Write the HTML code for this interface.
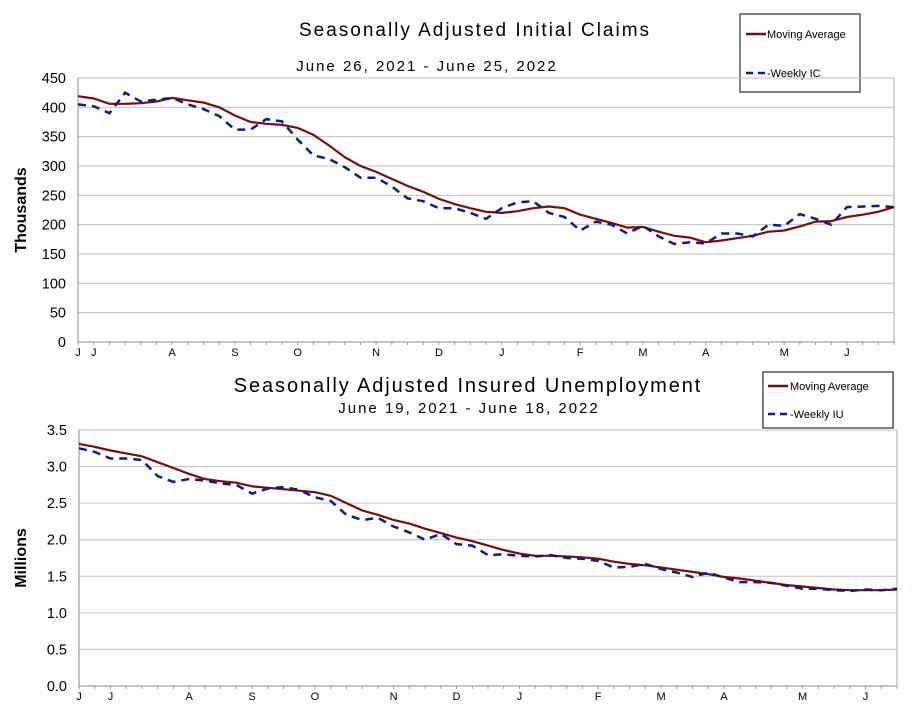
<!DOCTYPE html>
<html><head><meta charset="utf-8"><style>
body{margin:0;background:#fff;}
svg text{font-family:"Liberation Sans",Arial,sans-serif;fill:#000;}
</style></head><body>
<svg id="svg" width="923" height="710" xmlns="http://www.w3.org/2000/svg">
<text x="475" y="36" font-size="19" letter-spacing="2" text-anchor="middle">Seasonally Adjusted  Initial  Claims</text>
<text x="427" y="71" font-size="15" letter-spacing="2" text-anchor="middle">June 26, 2021 - June 25, 2022</text>
<text transform="translate(26,210) rotate(-90)" font-size="16" font-weight="bold" text-anchor="middle">Thousands</text>
<g>
<rect x="740" y="14" width="120" height="78" fill="#fff" stroke="#000" stroke-width="1"/>
<line x1="746" y1="34" x2="766" y2="34" stroke="#7b0c0c" stroke-width="2.5"/>
<text x="767" y="38" font-size="11">Moving Average</text>
<line x1="746" y1="73" x2="766" y2="73" stroke="#0b1a8c" stroke-width="2.5" stroke-dasharray="7,5"/>
<text x="767" y="77" font-size="11">-Weekly IC</text>
</g>
<text x="468" y="392" font-size="20" letter-spacing="1.9" text-anchor="middle">Seasonally Adjusted Insured  Unemployment</text>
<text x="469" y="413" font-size="15" letter-spacing="2" text-anchor="middle">June 19, 2021 - June 18, 2022</text>
<text transform="translate(26,558) rotate(-90)" font-size="16" font-weight="bold" text-anchor="middle">Millions</text>
<g>
<rect x="763" y="372" width="130" height="56" fill="#fff" stroke="#000" stroke-width="1"/>
<line x1="768" y1="386" x2="788" y2="386" stroke="#7b0c0c" stroke-width="2.5"/>
<text x="790" y="390" font-size="11">Moving Average</text>
<line x1="768" y1="414" x2="788" y2="414" stroke="#0b1a8c" stroke-width="2.5" stroke-dasharray="7,5"/>
<text x="790" y="418" font-size="11">-Weekly IU</text>
</g>
<g id="g1"></g><g id="g2"></g>
</svg>
<script>
const icWeekly=[405,402,390,425,410,413,416,405,397,385,362,362,380,376,345,318,312,298,280,280,265,245,240,228,228,220,210,228,238,240,220,213,190,205,200,185,198,180,167,170,168,185,185,180,200,198,218,210,200,230,231,232,230];
const icMA=[419,415,406,406,407,410,416,412,408,400,386,375,372,370,365,353,335,315,300,290,278,266,256,244,235,228,222,220,223,228,231,228,217,210,203,195,196,188,181,178,170,173,177,181,188,190,197,205,206,213,217,222,230];
const icTicks=[0,50,100,150,200,250,300,350,400,450];
const icMonths=[["J",0],["J",1],["A",6],["S",10],["O",14],["N",19],["D",23],["J",27],["F",32],["M",36],["A",40],["M",45],["J",49]];
const iuWeekly=[3.25,3.2,3.11,3.11,3.09,2.87,2.79,2.83,2.81,2.77,2.75,2.63,2.7,2.72,2.68,2.58,2.53,2.34,2.27,2.30,2.18,2.10,2.0,2.08,1.94,1.92,1.79,1.80,1.78,1.77,1.79,1.75,1.74,1.71,1.62,1.63,1.67,1.60,1.55,1.49,1.55,1.48,1.42,1.42,1.41,1.37,1.33,1.33,1.31,1.30,1.32,1.31,1.33];
const iuMA=[3.31,3.27,3.22,3.18,3.14,3.06,2.98,2.90,2.83,2.80,2.78,2.73,2.71,2.69,2.67,2.65,2.60,2.50,2.40,2.34,2.27,2.22,2.15,2.09,2.03,1.98,1.92,1.86,1.81,1.78,1.78,1.77,1.76,1.74,1.70,1.67,1.65,1.62,1.59,1.56,1.53,1.49,1.47,1.44,1.41,1.38,1.36,1.34,1.32,1.31,1.31,1.31,1.32];
const iuTicks=[0,0.5,1,1.5,2,2.5,3,3.5];
const iuMonths=[["J",0],["J",2],["A",7],["S",11],["O",15],["N",20],["D",24],["J",28],["F",33],["M",37],["A",41],["M",46],["J",50]];
const NS="http://www.w3.org/2000/svg";
function mk(p,t,a){const e=document.createElementNS(NS,t);for(const k in a)e.setAttribute(k,a[k]);p.appendChild(e);return e;}
function chart(g,o,weekly,ma,ticks,months,fmt,pre){
 const n=weekly.length;
 const x=i=>o.x0+(o.x1-o.x0)*i/(n-1);
 const y=v=>o.y1-(o.y1-o.y0)*(v-o.min)/(o.max-o.min);
 ticks.forEach(t=>{
  const l=mk(g,'line',{x1:o.x0,x2:o.x1,y1:y(t),y2:y(t),stroke:t===o.min?'#888':'#c0c0c0','stroke-width':1});
  
  
  const tx=mk(g,'text',{x:o.x0-12,y:y(t)+5,'font-size':14.5,'text-anchor':'end'});
  tx.textContent=fmt(t);
  
  
 });
 mk(g,'line',{x1:o.x0,x2:o.x0,y1:o.y0,y2:o.y1,stroke:'#888'});
 mk(g,'line',{x1:o.x1,x2:o.x1,y1:o.y0,y2:o.y1,stroke:'#aaa'});
 for(let i=0;i<n;i++){mk(g,'line',{x1:x(i),x2:x(i),y1:o.y1,y2:o.y1+3,stroke:'#999'});}
 months.forEach(m=>{
  const t=mk(g,'text',{x:x(m[1]),y:o.y1+14,'font-size':11,'text-anchor':'middle'});
  t.textContent=m[0];
  
  
 });
 const pm=mk(g,'path',{d:ma.map((v,i)=>(i?'L':'M')+x(i).toFixed(1)+','+y(v).toFixed(1)).join(''),fill:'none',stroke:'#7b0c0c','stroke-width':2.2});
 
 
 const pw=mk(g,'path',{d:weekly.map((v,i)=>(i?'L':'M')+x(i).toFixed(1)+','+y(v).toFixed(1)).join(''),fill:'none',stroke:'#0b1a8c','stroke-width':2.5,'stroke-dasharray':'8,6'});
 
 
}
chart(document.getElementById('g1'),{x0:78,x1:894,y0:78,y1:342,min:0,max:450},icWeekly,icMA,icTicks,icMonths,t=>String(t),'ic');
chart(document.getElementById('g2'),{x0:79,x1:897,y0:430,y1:686,min:0,max:3.5},iuWeekly,iuMA,iuTicks,iuMonths,t=>t.toFixed(1),'iu');
</script>
</body></html>
